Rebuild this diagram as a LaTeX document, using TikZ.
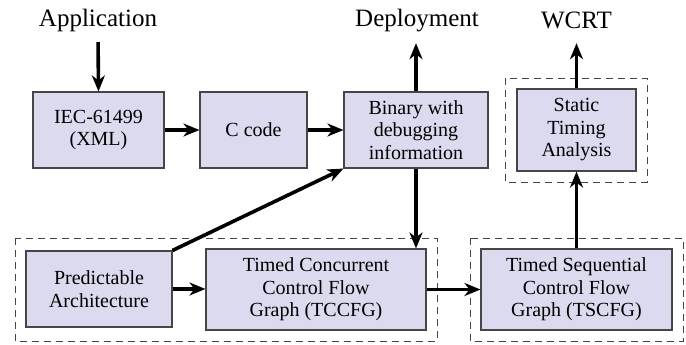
\documentclass[tikz,border=0pt]{standalone}
\usepackage{fontspec}
\setmainfont{Liberation Serif}
\usetikzlibrary{arrows.meta}
\definecolor{boxfill}{RGB}{220,218,238}
\definecolor{boxline}{RGB}{70,70,70}
\begin{document}
\begin{tikzpicture}[x=1pt,y=-1pt,
 blk/.style={draw=boxline,line width=1.1pt,fill=boxfill,align=center,font=\fontsize{20}{22.5}\selectfont,inner sep=0pt},
 lbl/.style={font=\fontsize{25}{28}\selectfont,anchor=base,inner sep=0pt,text depth=6pt},
 flow/.style={line width=3.6pt,-{Stealth[length=16pt,width=13pt,inset=5pt]}},
 grp/.style={draw=boxline,line width=0.8pt,dash pattern=on 7pt off 5pt}]
\useasboundingbox (0,0) rectangle (686,345);
% dashed groups
\draw[grp] (15,238) rectangle (437,341);
\draw[grp] (470,238) rectangle (683,341);
\draw[grp] (505,78) rectangle (647,182);
% labels
\node[lbl] (app) at (98,27) {Application};
\node[lbl] (dep) at (417,27) {Deployment};
\node[lbl] (wcrt) at (576.5,29) {WCRT};
% boxes
\node[blk,minimum width=131pt,minimum height=76pt] (iec) at (98.5,130) {IEC-61499\\(XML)};
\node[blk,minimum width=107pt,minimum height=76pt] (cc) at (253.5,130) {C code};
\node[blk,minimum width=144pt,minimum height=76pt] (bin) at (416,130) {Binary with\\debugging\\information};
\node[blk,minimum width=119pt,minimum height=82pt] (sta) at (576.5,130) {Static\\Timing\\Analysis};
\node[blk,minimum width=146pt,minimum height=76pt] (pred) at (99,289) {Predictable\\Architecture};
\node[blk,minimum width=220pt,minimum height=81pt] (tcc) at (316,289.5) {Timed Concurrent\\Control Flow\\Graph (TCCFG)};
\node[blk,minimum width=191pt,minimum height=81pt] (tsc) at (576.5,289.5) {Timed Sequential\\Control Flow\\Graph (TSCFG)};
% connectors
\draw[flow,shorten <=9pt] (app.south) -- (iec.north);
\draw[flow] (iec.east) -- (cc.west);
\draw[flow] (cc.east) -- (bin.west);
\draw[flow,shorten >=10pt] (bin.north) -- (bin.north |- dep.south);
\draw[flow] (bin.south) -- (bin.south |- tcc.north);
\draw[flow] (pred.north east) -- (bin.south west);
\draw[flow] (pred.east) -- (pred.east -| tcc.west);
\draw[flow] (tcc.east) -- (tsc.west);
\draw[flow] (tsc.north) -- (sta.south);
\draw[flow,shorten >=8pt] (sta.north) -- (wcrt.south);
\end{tikzpicture}
\end{document}
